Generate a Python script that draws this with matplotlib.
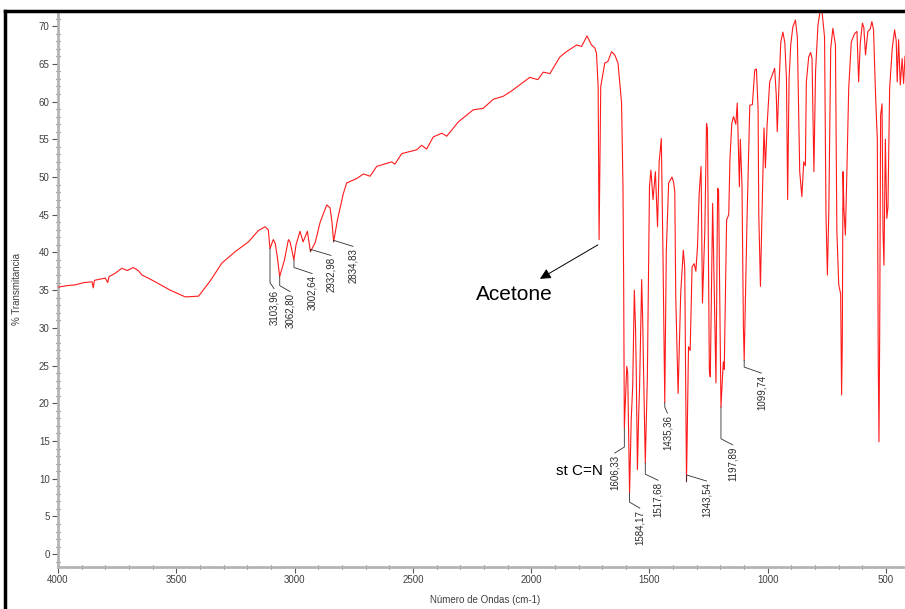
import matplotlib
matplotlib.use("Agg")
import matplotlib.pyplot as plt
from matplotlib.lines import Line2D
from matplotlib.ticker import MultipleLocator

plt.rcParams["font.family"] = ["Liberation Sans", "DejaVu Sans"]

# IR spectrum (wavenumber cm-1, % transmittance)
wavenumber = [
    4000, 3960, 3927, 3890, 3856, 3851, 3846, 3800, 3790, 3784, 3760, 3730,
    3707, 3682, 3661, 3645, 3619, 3589, 3526, 3462, 3406, 3357, 3307, 3251,
    3195, 3153, 3125, 3111, 3104, 3090, 3082, 3073, 3063, 3043, 3026, 3019,
    3003, 2994, 2977, 2964, 2946, 2933, 2913, 2892, 2864, 2850, 2842, 2835,
    2819, 2794, 2780, 2737, 2709, 2681, 2653, 2590, 2576, 2547, 2484, 2463,
    2442, 2414, 2378, 2357, 2308, 2245, 2203, 2160, 2118, 2083, 2006, 1972,
    1949, 1921, 1879, 1851, 1808, 1787, 1764, 1745, 1731, 1724, 1717, 1713,
    1706, 1689, 1676, 1660, 1647, 1633, 1618, 1612, 1609, 1606.3, 1602, 1596,
    1592, 1584.2, 1577, 1571, 1564, 1559, 1556, 1551, 1546, 1542, 1533, 1528,
    1526, 1517.7, 1513, 1509, 1500, 1494, 1485, 1475, 1466, 1459, 1450, 1443,
    1435.4, 1429, 1419, 1405, 1398, 1393, 1389, 1379, 1368, 1357, 1351, 1343.5,
    1335, 1328, 1320, 1311, 1304, 1297, 1290, 1282, 1276, 1266, 1259, 1255,
    1247, 1243, 1233, 1226, 1219, 1212, 1208, 1197.9, 1188, 1184, 1174, 1165,
    1160, 1152, 1145, 1135, 1129, 1120, 1116, 1109, 1103, 1099.7, 1088, 1076,
    1065, 1055, 1048, 1041, 1038, 1031, 1025, 1016, 1010, 1003, 992, 971,
    964, 960, 954, 945, 936, 928, 921, 916, 910, 903, 894, 883,
    875, 865, 856, 848, 841, 837, 827, 819, 813, 805, 798, 788,
    774, 760, 754, 748, 742, 734, 725, 714, 708, 700, 692, 688,
    685, 682, 678, 672, 665, 658, 647, 633, 623, 616, 609, 600,
    594, 587, 577, 567, 560, 553, 544, 537, 533, 530, 527, 523,
    517, 513, 509, 503, 497, 492, 485, 474, 464, 457, 453, 447,
    440, 432, 426, 420,
]
transmittance = [
    35.4, 35.6, 35.7, 36.0, 36.1, 35.3, 36.3, 36.6, 36.0, 36.8, 37.2, 37.9,
    37.6, 38.0, 37.6, 37.0, 36.6, 36.1, 35.0, 34.1, 34.2, 36.2, 38.6, 40.1,
    41.4, 42.9, 43.4, 43.0, 40.5, 41.7, 41.2, 39.4, 36.8, 39.0, 41.7, 41.4,
    39.0, 41.0, 42.8, 41.4, 42.8, 40.1, 41.3, 44.0, 46.3, 45.9, 44.0, 41.4,
    44.3, 47.8, 49.2, 49.8, 50.4, 50.1, 51.4, 52.0, 51.7, 53.1, 53.6, 54.2,
    53.7, 55.3, 55.8, 55.4, 57.3, 58.9, 59.1, 60.3, 60.7, 61.4, 63.2, 62.9,
    63.9, 63.7, 65.9, 66.6, 67.5, 67.3, 68.7, 67.5, 67.1, 66.4, 62.0, 41.7,
    62.0, 65.1, 65.3, 66.6, 66.2, 65.1, 59.8, 48.7, 35.5, 16.7, 20.0, 24.9,
    24.0, 8.1, 18.0, 22.2, 35.0, 30.0, 24.4, 11.2, 18.0, 22.0, 36.4, 30.0,
    26.0, 12.1, 18.0, 23.4, 48.7, 50.9, 47.0, 50.7, 43.4, 52.0, 55.1, 39.9,
    20.1, 40.0, 49.2, 50.0, 49.3, 48.0, 34.1, 21.3, 34.6, 40.3, 38.0, 9.6,
    27.5, 27.0, 38.1, 38.5, 37.5, 40.8, 47.8, 51.4, 33.3, 43.0, 57.1, 56.4,
    24.4, 23.5, 46.5, 34.5, 22.7, 48.5, 48.3, 19.5, 25.5, 24.5, 44.3, 45.0,
    52.3, 57.1, 58.0, 57.0, 59.8, 48.7, 55.0, 49.0, 30.0, 25.7, 44.0, 59.5,
    59.6, 64.2, 64.3, 59.0, 45.0, 35.5, 44.3, 56.5, 51.2, 56.8, 62.6, 64.4,
    60.8, 56.0, 61.0, 67.9, 69.2, 67.8, 63.0, 47.0, 63.0, 67.5, 69.9, 70.8,
    68.5, 50.7, 47.4, 52.0, 51.5, 62.6, 65.9, 66.5, 65.7, 50.7, 64.0, 70.1,
    73.0, 68.5, 45.0, 37.0, 45.5, 67.0, 69.7, 67.5, 42.8, 35.7, 34.5, 21.1,
    28.0, 50.7, 45.6, 42.3, 51.6, 61.7, 67.9, 69.0, 69.3, 62.6, 67.8, 70.4,
    69.8, 66.2, 69.3, 69.6, 70.6, 69.5, 60.4, 55.0, 25.5, 14.9, 29.0, 58.2,
    59.7, 42.8, 38.3, 55.0, 44.5, 46.0, 61.7, 67.0, 69.5, 68.0, 62.6, 68.2,
    62.2, 65.7, 62.4, 66.0,
]

# labelled peaks
peak_text = ["3103,96", "3062,80", "3002,64", "2932,98", "2834,83", "1606,33",
             "1584,17", "1517,68", "1435,36", "1343,54", "1197,89", "1099,74"]
peak_wn = [3103.96, 3062.80, 3002.64, 2932.98, 2834.83, 1606.33,
           1584.17, 1517.68, 1435.36, 1343.54, 1197.89, 1099.74]
peak_T = [40.5, 36.8, 39.0, 40.1, 41.4, 16.7, 8.1, 12.1, 20.1, 9.6, 19.5, 25.7]

# where each rotated label sits (x centre, top of text)
label_x = [3087, 3019, 2926, 2846, 2753, 1647, 1541, 1464, 1424, 1259, 1149, 1027]
label_top = [35.0, 34.6, 37.0, 39.4, 40.6, 13.2, 5.9, 9.6, 18.5, 9.5, 14.3, 23.8]

W, H = 905, 609
fig = plt.figure(figsize=(W / 100, H / 100), dpi=100)
ax = fig.add_axes([58 / W, 1 - 567 / H, 1 - 58 / W, (567 - 11) / H])

ax.plot(wavenumber, transmittance, color="#ff1a1a", lw=0.8, zorder=3)

ax.set_xlim(4000, 420)
ax.set_ylim(-1.7, 72.0)

# leaders + rotated peak labels
for txt, pw, pt, lx, ly in zip(peak_text, peak_wn, peak_T, label_x, label_top):
    knee = ly + 1.0
    ax.plot([pw, pw, lx], [pt, knee, ly + 0.2], color="#303030", lw=0.6, zorder=4)
    ax.text(lx, ly, txt, rotation=90, ha="center", va="top", fontsize=7,
            color="#2b2b2b", zorder=5)

ax.text(1794, 11.0, "st C=N", ha="center", va="center", fontsize=11, color="black")
ax.text(2073, 34.4, "Acetone", ha="center", va="center", fontsize=15, color="black")
ax.annotate("", xy=(1963, 36.5), xytext=(1718, 41.0),
            arrowprops=dict(arrowstyle="-|>", color="black", lw=0.7,
                            mutation_scale=16, shrinkA=0, shrinkB=0))

ax.xaxis.set_major_locator(MultipleLocator(500))
ax.xaxis.set_minor_locator(MultipleLocator(100))
ax.yaxis.set_major_locator(MultipleLocator(5))
ax.yaxis.set_minor_locator(MultipleLocator(1))
ax.tick_params(which="major", direction="out", length=4, width=0.8,
               color="#555555", labelsize=7, labelcolor="#404040", pad=2)
ax.tick_params(which="minor", direction="inout", length=3, width=0.8, color="#555555")

for side in ["top", "right"]:
    ax.spines[side].set_visible(False)
for side in ["left", "bottom"]:
    ax.spines[side].set_color("#b4b4b4")
    ax.spines[side].set_linewidth(2)

ax.set_ylabel("% Transmitancia", fontsize=7, color="#404040")
ax.yaxis.set_label_coords(-(58 - 22) / (W - 58), 0.5)
ax.set_xlabel("Número de Ondas (cm-1)", fontsize=7, color="#404040", va="center")
ax.xaxis.set_label_coords((485 - 58) / (W - 58), -(600 - 567) / (567 - 11))

# window frame (left and top edges)
fig.add_artist(Line2D([5 / W, 5 / W], [0, 1 - 10.5 / H], transform=fig.transFigure,
                      color="black", lw=2.5))
fig.add_artist(Line2D([5 / W, 1], [1 - 10.5 / H, 1 - 10.5 / H], transform=fig.transFigure,
                      color="black", lw=2.5))

fig.savefig("out.png", dpi=100)
